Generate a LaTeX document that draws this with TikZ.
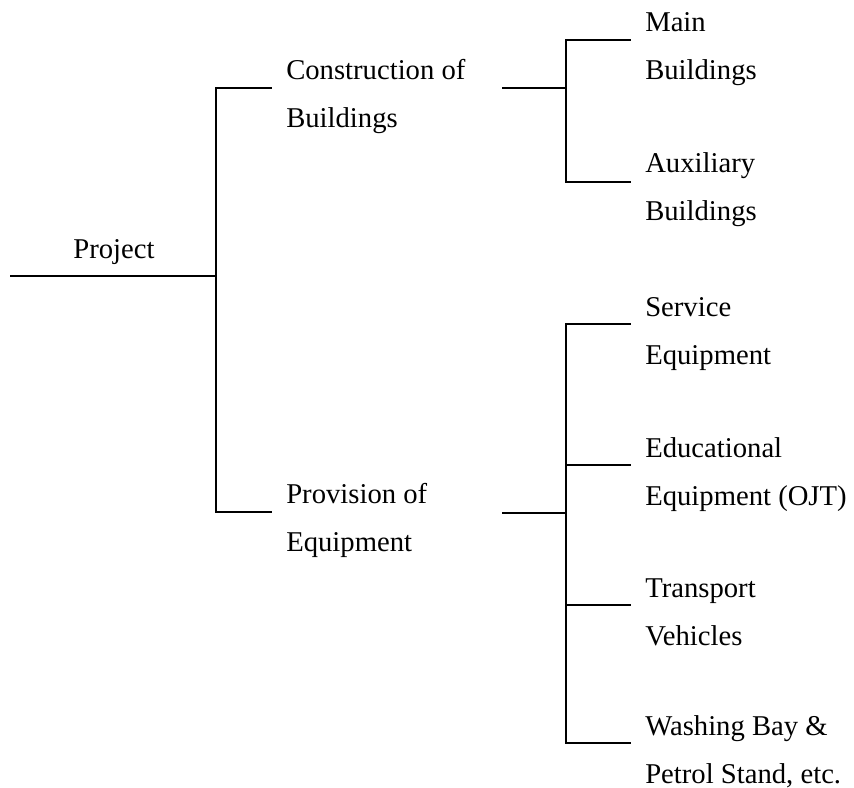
\documentclass[tikz,border=0pt]{standalone}
\usepackage{fontspec}
\setmainfont{Liberation Serif}
\tikzset{
	itemtext/.style={anchor=base west, inner sep=0pt, align=left, font=\fontsize{21.5}{36}\selectfont},
	branch/.style={line width=2pt, color=black}
}
\begin{document}
\begin{tikzpicture}[x=0.75pt,y=0.75pt,yscale=-1,xscale=1]
	\useasboundingbox (0,0) rectangle (854,788);
	
	% Text Node
	\node[itemtext, anchor=base] (proj) at (114,259) {Project};
	% Text Node
	\node[itemtext] (cons) at (286,128) {Construction of\\Buildings};
	% Text Node
	\node[itemtext] (prov) at (286,551) {Provision of\\Equipment};
	% Text Node
	\node[itemtext] (main) at (645,80) {Main\\Buildings};
	% Text Node
	\node[itemtext] (aux) at (645,221) {Auxiliary\\Buildings};
	% Text Node
	\node[itemtext] (serv) at (645,364) {Service\\Equipment};
	% Text Node
	\node[itemtext] (edu) at (645,505) {Educational\\Equipment (OJT)};
	% Text Node
	\node[itemtext] (trans) at (645,645) {Transport\\Vehicles};
	% Text Node
	\node[itemtext] (wash) at (645,783) {Washing Bay \&\\Petrol Stand, etc.};
	
	% Joints
	\coordinate (proj-start) at (10,276);
	\coordinate (proj-jn) at (216,276);
	\coordinate (cons-in) at (272,88);
	\coordinate (prov-in) at (272,512);
	\coordinate (cons-out) at (502,88);
	\coordinate (cons-jn) at (566,88);
	\coordinate (prov-out) at (502,513);
	\coordinate (prov-jn) at (566,513);
	\coordinate (main-in) at (631,40);
	\coordinate (aux-in) at (631,182);
	\coordinate (serv-in) at (631,324);
	\coordinate (edu-in) at (631,465);
	\coordinate (trans-in) at (631,605);
	\coordinate (wash-in) at (631,743);
	
	% Connection
	\draw[branch] (proj-start) -- (proj-jn);
	\draw[branch] (proj-jn) |- (cons-in);
	\draw[branch] (proj-jn) |- (prov-in);
	% Connection
	\draw[branch] (cons-out) -- (cons-jn);
	\draw[branch] (cons-jn) |- (main-in);
	\draw[branch] (cons-jn) |- (aux-in);
	% Connection
	\draw[branch] (prov-out) -- (prov-jn);
	\draw[branch] (prov-jn) |- (serv-in);
	\draw[branch] (prov-jn) |- (edu-in);
	\draw[branch] (prov-jn) |- (trans-in);
	\draw[branch] (prov-jn) |- (wash-in);
	
\end{tikzpicture}
\end{document}
